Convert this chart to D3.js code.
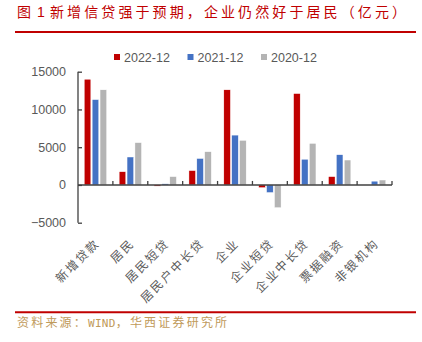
<!DOCTYPE html>
<html><head><meta charset="utf-8">
<script src="https://cdn.jsdelivr.net/npm/d3@7"></script>
<style>
html,body{margin:0;padding:0;background:#fff;}
svg{display:block;}
</style></head>
<body>
<svg id="c" width="422" height="342"></svg>
<script>
const categories = ["新增贷款","居民","居民短贷","居民户中长贷","企业","企业短贷","企业中长贷","票据融资","非银机构"];
const seriesNames = ["2022-12","2021-12","2020-12"];
const s2022 = [14000, 1750, -150, 1900, 12600, -350, 12100, 1100, 0];
const s2021 = [11300, 3700, 150, 3500, 6600, -1000, 3400, 4000, 500];
const s2020 = [12600, 5600, 1100, 4400, 5900, -3000, 5500, 3300, 650];
const yTicks = [-5000, 0, 5000, 10000, 15000];
const colors = ["#C00000", "#4472C4", "#B4B4B4"];

const seriesVals = [s2022, s2021, s2020];
const svg = d3.select("#c");
const latin = "Arial, 'Liberation Sans', sans-serif";
const cjk = "'Noto Sans CJK SC', sans-serif";

// title
svg.append("text").attr("x", 17).attr("y", 16.5).attr("fill", "#C00000")
  .attr("font-family", cjk).attr("font-size", 14).text("图");
svg.append("text").attr("x", 37).attr("y", 16.5).attr("fill", "#C00000")
  .attr("font-family", latin).attr("font-size", 14).text("1");
svg.append("text").attr("x", 50).attr("y", 16.5).attr("fill", "#C00000")
  .attr("font-family", cjk).attr("font-size", 14).attr("letter-spacing", 3.1)
  .text("新增信贷强于预期，企业仍然好于居民（亿元）");
svg.append("line").attr("x1", 15).attr("x2", 416).attr("y1", 32).attr("y2", 32)
  .attr("stroke", "#C00000").attr("stroke-width", 2);

// scales
const y = d3.scaleLinear().domain([-5000, 15000]).range([222.7, 71.7]);
const x = d3.scaleBand().domain(categories).range([78, 392]).padding(0);
const bw = x.bandwidth();
const xs = d3.scaleBand().domain(seriesNames).range([bw*0.18, bw*0.82]).paddingInner(0.17);

// legend
const legX = [114, 187.5, 261];
seriesNames.forEach((n, i) => {
  svg.append("rect").attr("x", legX[i]).attr("y", 54).attr("width", 6).attr("height", 6).attr("fill", colors[i]);
  svg.append("text").attr("x", legX[i] + 10).attr("y", 61.5).attr("fill", "#595959")
    .attr("font-family", latin).attr("font-size", 12.5).text(n);
});

// bars
const g = svg.append("g");
seriesNames.forEach((n, si) => {
  g.selectAll(null).data(categories).enter().append("rect")
    .attr("x", c => x(c) + xs(n))
    .attr("width", xs.bandwidth())
    .attr("y", (c, i) => y(Math.max(0, seriesVals[si][i])))
    .attr("height", (c, i) => Math.abs(y(seriesVals[si][i]) - y(0)))
    .attr("fill", colors[si])
    .attr("stroke", "#fff").attr("stroke-width", 0.4);
});

// y axis
const ya = svg.append("g").attr("transform", "translate(78,0)")
  .call(d3.axisLeft(y).tickValues(yTicks).tickSize(-4).tickPadding(12).tickFormat(d3.format("d")));
ya.select(".domain").attr("stroke", "#404040").attr("stroke-width", 1.3).attr("d", "M0,222.7V71.7");
ya.selectAll(".tick line").attr("stroke", "#404040").attr("stroke-width", 1.3);
ya.selectAll(".tick text").attr("fill", "#595959").attr("font-family", latin).attr("font-size", 12.5);

// x axis (at zero)
const xa = svg.append("g");
xa.append("line").attr("x1", 78).attr("x2", 392).attr("y1", y(0)).attr("y2", y(0))
  .attr("stroke", "#404040").attr("stroke-width", 1.5);
const bounds = categories.map(c => x(c)).concat([x.range()[1]]).slice(1);
xa.selectAll(null).data(bounds).enter().append("line")
  .attr("x1", d => d).attr("x2", d => d).attr("y1", y(0)).attr("y2", y(0) - 4)
  .attr("stroke", "#404040").attr("stroke-width", 1.3);

// x labels
svg.append("g").selectAll(null).data(categories).enter().append("text")
  .attr("transform", c => `translate(${x(c) + bw/2 + 5},244) rotate(-45)`)
  .attr("text-anchor", "end")
  .attr("fill", "#595959").attr("font-family", cjk).attr("font-size", 12)
  .attr("letter-spacing", 2).text(c => c);

// footer
svg.append("line").attr("x1", 15).attr("x2", 416).attr("y1", 312.3).attr("y2", 312.3)
  .attr("stroke", "#C00000").attr("stroke-width", 2);
const src = svg.append("text").attr("x", 17).attr("y", 326.5).attr("fill", "#BF9A5A")
  .attr("font-family", cjk).attr("font-size", 12).attr("letter-spacing", 2.2);
src.append("tspan").text("资料来源：");
src.append("tspan").attr("font-family", "'DejaVu Sans Mono', monospace").attr("font-size", 11).attr("letter-spacing", 0.3).text("WIND");
src.append("tspan").text("，华西证券研究所");
</script>
</body></html>
